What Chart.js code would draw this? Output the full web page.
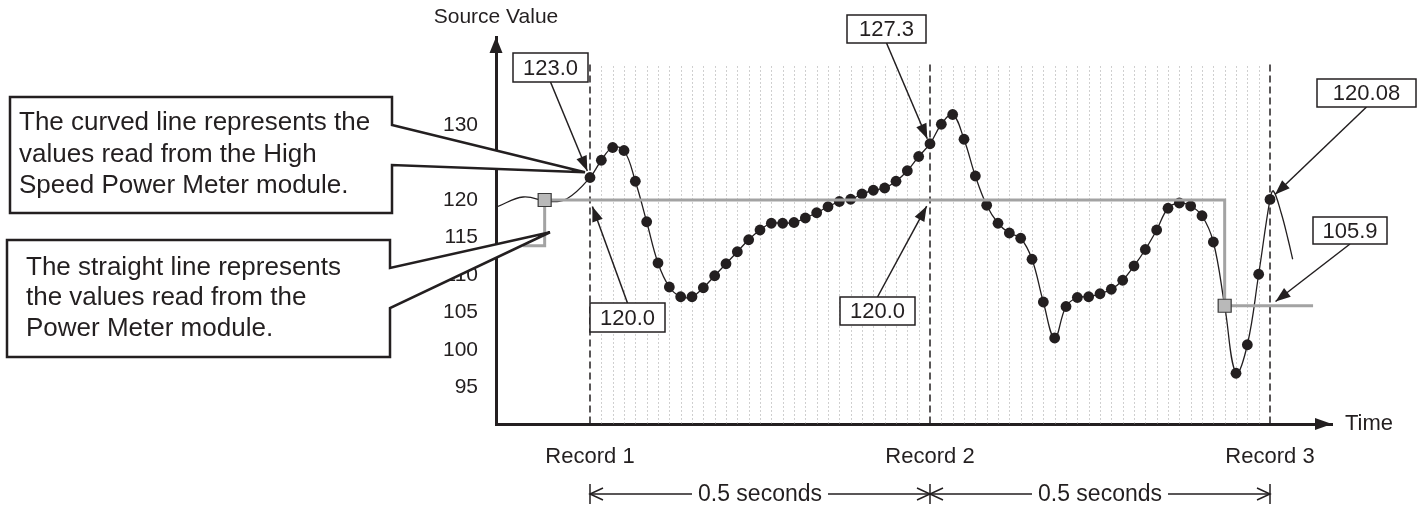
<!DOCTYPE html>
<html>
<head>
<meta charset="utf-8">
<script src="https://cdn.jsdelivr.net/npm/chart.js@4.4.1/dist/chart.umd.min.js"></script>
<style>
  html, body { margin: 0; padding: 0; background: #fff; }
</style>
</head>
<body>
<canvas id="chart" width="1422" height="506"></canvas>
<script>
// values
const recordLabels = ['Record 1', 'Record 2', 'Record 3'];
const recordIdx = [0, 30, 60];
const yTicks = [95, 100, 105, 110, 115, 120, 125, 130];
const spanLabels = ['0.5 seconds', '0.5 seconds'];

// high speed samples, one per dotted column (index 0 = Record 1)
const sampleValues = [
  123.0, 125.3, 127.0, 126.6, 122.5, 117.1, 111.6, 108.4, 107.1, 107.1,
  108.3, 109.9, 111.5, 113.1, 114.7, 116.0, 116.9, 116.9, 117.0, 117.6,
  118.3, 119.1, 119.8, 120.1, 120.8, 121.3, 121.6, 122.5, 123.9, 125.8,
  127.5, 130.1, 131.4, 128.1, 123.2, 119.3, 116.9, 115.6, 114.9, 112.1,
  106.4, 101.6, 105.8, 107.0, 107.1, 107.5, 108.1, 109.3, 111.2, 113.4,
  116.0, 118.9, 119.6, 119.2, 117.9, 114.4, 105.9, 96.9, 100.7, 110.1,
  120.08
];
// thin curve before Record 1 and after Record 3 (no dots)
const leadX = [-8.2, -5.9, -3.6, -2.0];
const leadY = [119.1, 120.4, 119.8, 120.2];
const tailX = [60.3, 61.0, 61.6, 62.0];
const tailY = [121.2, 118.2, 114.7, 112.1];

// power meter readings (straight line) and its update points
const meterX = [-5.9, -4.0, -4.0, 56.0, 56.0, 63.8];
const meterY = [113.9, 113.9, 120.0, 120.0, 105.9, 105.9];
const updateX = [-4.0, 56.0];
const updateY = [120.0, 105.9];

const ink = '#231f20';
const meterGray = '#a3a3a3';
const FONT = "'Liberation Sans', Arial, Helvetica, sans-serif";

// value tags: text, data point they point at, box [x, y, w, h]
const valueTags = [
  { text: '123.0', x: 0, y: 123.0, box: [513, 53, 75, 29] },
  { text: '127.3', x: 30, y: 127.3, box: [847, 15, 79, 28] },
  { text: '120.08', x: 60, y: 120.08, box: [1317, 79, 99, 28] },
  { text: '105.9', x: 60, y: 105.9, box: [1313, 217, 74, 27] },
  { text: '120.0', x: 0, y: 120.0, box: [590, 303, 75, 29] },
  { text: '120.0', x: 30, y: 120.0, box: [840, 297, 75, 28] }
];

const callouts = [
  { lines: ['The curved line represents the', 'values read from the High', 'Speed Power Meter module.'],
    rect: [10, 97, 382, 116], neck: [125, 165], tipX: -0.44, tipY: 123.7, textX: 19, base: [130, 162, 193] },
  { lines: ['The straight line represents', 'the values read from the', 'Power Meter module.'],
    rect: [7, 240, 383, 117], neck: [268, 308], tipX: -3.53, tipY: 115.7, textX: 26, base: [275, 305, 336] }
];

Chart.defaults.font.family = FONT;
Chart.defaults.color = ink;

const curveData = [
  ...leadX.map((x, i) => ({ x, y: leadY[i] })),
  ...sampleValues.map((v, i) => ({ x: i, y: v })),
  ...tailX.map((x, i) => ({ x, y: tailY[i] }))
];
const curveRadius = curveData.map((p, i) =>
  (i >= leadX.length && i < leadX.length + sampleValues.length) ? 5.4 : 0);

function fillArrow(ctx, x1, y1, x2, y2, len, half) {
  const a = Math.atan2(y2 - y1, x2 - x1);
  const c = Math.cos(a), s = Math.sin(a);
  ctx.beginPath();
  ctx.moveTo(x2, y2);
  ctx.lineTo(x2 - len * c + half * s, y2 - len * s - half * c);
  ctx.lineTo(x2 - len * c - half * s, y2 - len * s + half * c);
  ctx.closePath();
  ctx.fill();
}

function openArrow(ctx, x, y, dir) {
  ctx.beginPath();
  ctx.moveTo(x - dir * 13, y - 6);
  ctx.lineTo(x, y);
  ctx.lineTo(x - dir * 13, y + 6);
  ctx.stroke();
}

const diagramPlugin = {
  id: 'diagram',
  beforeDatasetsDraw(chart) {
    const { ctx, chartArea, scales: { x: xs, y: ys } } = chart;
    const top = ys.getPixelForValue(137.8);
    ctx.save();
    // dotted sample columns
    ctx.strokeStyle = '#a0a0a0';
    ctx.lineWidth = 1;
    ctx.setLineDash([1, 3]);
    for (let i = recordIdx[0] + 1; i < recordIdx[recordIdx.length - 1]; i++) {
      if (recordIdx.includes(i)) continue;
      const px = Math.round(xs.getPixelForValue(i)) + 0.5;
      ctx.beginPath();
      ctx.moveTo(px, top);
      ctx.lineTo(px, chartArea.bottom);
      ctx.stroke();
    }
    // record markers
    ctx.strokeStyle = ink;
    ctx.lineWidth = 1.5;
    ctx.setLineDash([7, 4]);
    recordIdx.forEach(r => {
      const px = xs.getPixelForValue(r);
      ctx.beginPath();
      ctx.moveTo(px, top - 2);
      ctx.lineTo(px, chartArea.bottom);
      ctx.stroke();
    });
    ctx.restore();
  },
  afterDatasetsDraw(chart) {
    const { ctx, chartArea, scales: { x: xs, y: ys } } = chart;
    ctx.save();
    ctx.fillStyle = ink;
    ctx.strokeStyle = ink;

    // axis arrowheads and titles
    fillArrow(ctx, chartArea.left, chartArea.top + 20, chartArea.left, chartArea.top, 16, 6.5);
    fillArrow(ctx, chartArea.right - 20, chartArea.bottom, chartArea.right, chartArea.bottom, 17, 6);
    ctx.font = '21px ' + FONT;
    ctx.textAlign = 'center';
    ctx.textBaseline = 'middle';
    ctx.fillText('Source Value', chartArea.left, 17);
    ctx.font = '22px ' + FONT;
    ctx.textAlign = 'left';
    ctx.fillText('Time', chartArea.right + 13, chartArea.bottom);

    // callout boxes
    ctx.lineJoin = 'miter';
    ctx.miterLimit = 4;
    callouts.forEach(c => {
      const [bx, by, bw, bh] = c.rect;
      const tx = xs.getPixelForValue(c.tipX);
      const ty = ys.getPixelForValue(c.tipY);
      ctx.beginPath();
      ctx.moveTo(bx, by);
      ctx.lineTo(bx + bw, by);
      ctx.lineTo(bx + bw, c.neck[0]);
      ctx.lineTo(tx, ty);
      ctx.lineTo(bx + bw, c.neck[1]);
      ctx.lineTo(bx + bw, by + bh);
      ctx.lineTo(bx, by + bh);
      ctx.closePath();
      ctx.fillStyle = '#fff';
      ctx.fill();
      ctx.lineWidth = 2.5;
      ctx.stroke();
      ctx.fillStyle = ink;
      ctx.font = '26px ' + FONT;
      ctx.textAlign = 'left';
      ctx.textBaseline = 'alphabetic';
      c.lines.forEach((t, i) => ctx.fillText(t, c.textX, c.base[i]));
    });

    // value tags with arrows
    valueTags.forEach(t => {
      const [bx, by, bw, bh] = t.box;
      const tx = xs.getPixelForValue(t.x);
      const ty = ys.getPixelForValue(t.y);
      const sx = bx + bw / 2;
      const sy = ty > by + bh ? by + bh : by;
      const d = Math.hypot(tx - sx, ty - sy);
      const ex = tx - (tx - sx) / d * 7;
      const ey = ty - (ty - sy) / d * 7;
      ctx.lineWidth = 1.5;
      ctx.beginPath();
      ctx.moveTo(sx, sy);
      ctx.lineTo(ex, ey);
      ctx.stroke();
      ctx.fillStyle = ink;
      fillArrow(ctx, sx, sy, ex, ey, 15, 5.5);
      ctx.fillStyle = '#fff';
      ctx.fillRect(bx, by, bw, bh);
      ctx.strokeRect(bx, by, bw, bh);
      ctx.fillStyle = ink;
      ctx.font = '22px ' + FONT;
      ctx.textAlign = 'center';
      ctx.textBaseline = 'middle';
      ctx.fillText(t.text, bx + bw / 2, by + bh / 2 + 1);
    });

    // 0.5 second spans under the axis
    const dy = 494;
    ctx.lineWidth = 1.5;
    ctx.font = '23px ' + FONT;
    ctx.textAlign = 'center';
    ctx.textBaseline = 'middle';
    recordIdx.forEach(r => {
      const px = xs.getPixelForValue(r);
      ctx.beginPath();
      ctx.moveTo(px, dy - 10);
      ctx.lineTo(px, dy + 10);
      ctx.stroke();
    });
    spanLabels.forEach((lab, i) => {
      const a = xs.getPixelForValue(recordIdx[i]);
      const b = xs.getPixelForValue(recordIdx[i + 1]);
      const mid = (a + b) / 2;
      const half = ctx.measureText(lab).width / 2 + 6;
      ctx.beginPath();
      ctx.moveTo(a, dy); ctx.lineTo(mid - half, dy);
      ctx.moveTo(mid + half, dy); ctx.lineTo(b, dy);
      ctx.stroke();
      openArrow(ctx, a, dy, -1);
      openArrow(ctx, b, dy, 1);
      ctx.fillText(lab, mid, dy + 1);
    });
    ctx.restore();
  }
};

new Chart(document.getElementById('chart'), {
  type: 'line',
  data: {
    datasets: [
      {
        label: 'Power Meter',
        data: meterX.map((x, i) => ({ x, y: meterY[i] })),
        borderColor: meterGray,
        borderWidth: 3,
        pointRadius: 0,
        tension: 0,
        order: 1
      },
      {
        label: 'Power Meter update',
        data: updateX.map((x, i) => ({ x, y: updateY[i] })),
        showLine: false,
        pointStyle: 'rect',
        pointRadius: 9.2,
        pointBackgroundColor: '#b9b9b9',
        pointBorderColor: '#3a3a3a',
        pointBorderWidth: 1.2,
        order: 0
      },
      {
        label: 'High Speed Power Meter',
        data: curveData,
        borderColor: ink,
        borderWidth: 1.3,
        tension: 0.4,
        pointRadius: curveRadius,
        pointBackgroundColor: ink,
        pointBorderColor: ink,
        pointBorderWidth: 0,
        order: 2
      }
    ]
  },
  options: {
    responsive: false,
    animation: false,
    events: [],
    layout: { padding: { top: 37, right: 90, bottom: 0, left: 0 } },
    plugins: { legend: { display: false }, tooltip: { enabled: false } },
    scales: {
      x: {
        type: 'linear',
        min: -8.294,
        max: 65.47,
        afterBuildTicks: s => { s.ticks = recordIdx.map(v => ({ value: v })); },
        afterFit: s => { s.height = 82; },
        ticks: {
          autoSkip: false,
          maxRotation: 0,
          padding: 20,
          font: { size: 22 },
          callback: v => recordLabels[recordIdx.indexOf(v)]
        },
        grid: { display: false, drawTicks: false },
        border: { display: true, color: ink, width: 3 }
      },
      y: {
        min: 90.133,
        max: 141.733,
        afterBuildTicks: s => { s.ticks = yTicks.map(v => ({ value: v })); },
        afterFit: s => { s.width = 496; },
        ticks: { padding: 18, font: { size: 21 } },
        grid: { display: false, drawTicks: false },
        border: { display: true, color: ink, width: 3 }
      }
    }
  },
  plugins: [diagramPlugin]
});
</script>
</body>
</html>
